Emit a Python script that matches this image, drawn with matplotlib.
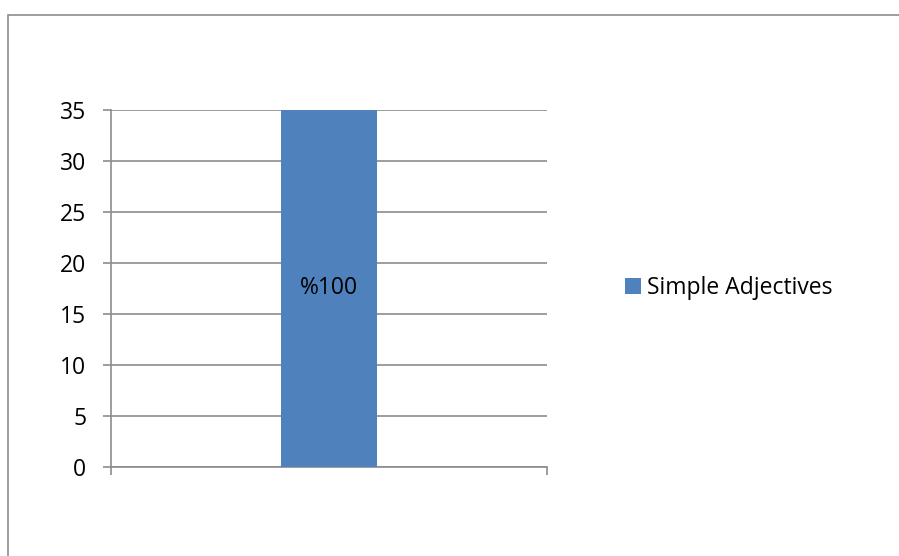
import matplotlib.pyplot as plt
from matplotlib.patches import Rectangle

plt.rcParams['font.family'] = ['Open Sans', 'DejaVu Sans']

# Chart data
categories = ['']
values = [35]
series_name = 'Simple Adjectives'
bar_labels = ['%100']
y_ticks = [0, 5, 10, 15, 20, 25, 30, 35]

bar_color = '#4F81BD'
line_color = '#8C8C8C'
fs = 16.5

W, H = 899, 556
fig = plt.figure(figsize=(W / 100, H / 100), dpi=100)

# Outer chart frame (runs off the right and bottom edges)
fig.patches.append(Rectangle((7.5 / W, -0.1), 1.2, (H - 15) / H + 0.1,
                             transform=fig.transFigure, fill=False,
                             edgecolor=line_color, linewidth=1.2))

ax = fig.add_axes([111 / W, (H - 466.7) / H, 436 / W, (466.7 - 110) / H])

x = list(range(len(categories)))
bars = ax.bar(x, values, width=0.218, color=bar_color, zorder=3, label=series_name)
ax.bar_label(bars, labels=bar_labels, label_type='center', fontsize=fs, color='black')

ax.set_xlim(-0.5, 0.5)
ax.set_ylim(0, 35)
ax.set_yticks(y_ticks)
ax.yaxis.grid(True, color=line_color, linewidth=1.2, zorder=0)
ax.set_axisbelow(True)

ax.set_xticks([-0.5, 0.5])
ax.set_xticklabels(['', ''])

for side in ['top', 'right']:
    ax.spines[side].set_visible(False)
for side in ['left', 'bottom']:
    ax.spines[side].set_color(line_color)
    ax.spines[side].set_linewidth(1.2)

ax.tick_params(axis='y', length=5.8, width=1.2, color=line_color, labelsize=fs, pad=12)
ax.tick_params(axis='x', length=5.8, width=1.2, color=line_color)

fig.legend(handles=[bars], labels=[series_name], loc='center left',
           bbox_to_anchor=(625 / W, (H - 288) / H), frameon=False,
           borderpad=0, borderaxespad=0,
           fontsize=fs, handlelength=0.7, handleheight=0.7, handletextpad=0.27)

fig.savefig('out.png', dpi=100, facecolor='white')
